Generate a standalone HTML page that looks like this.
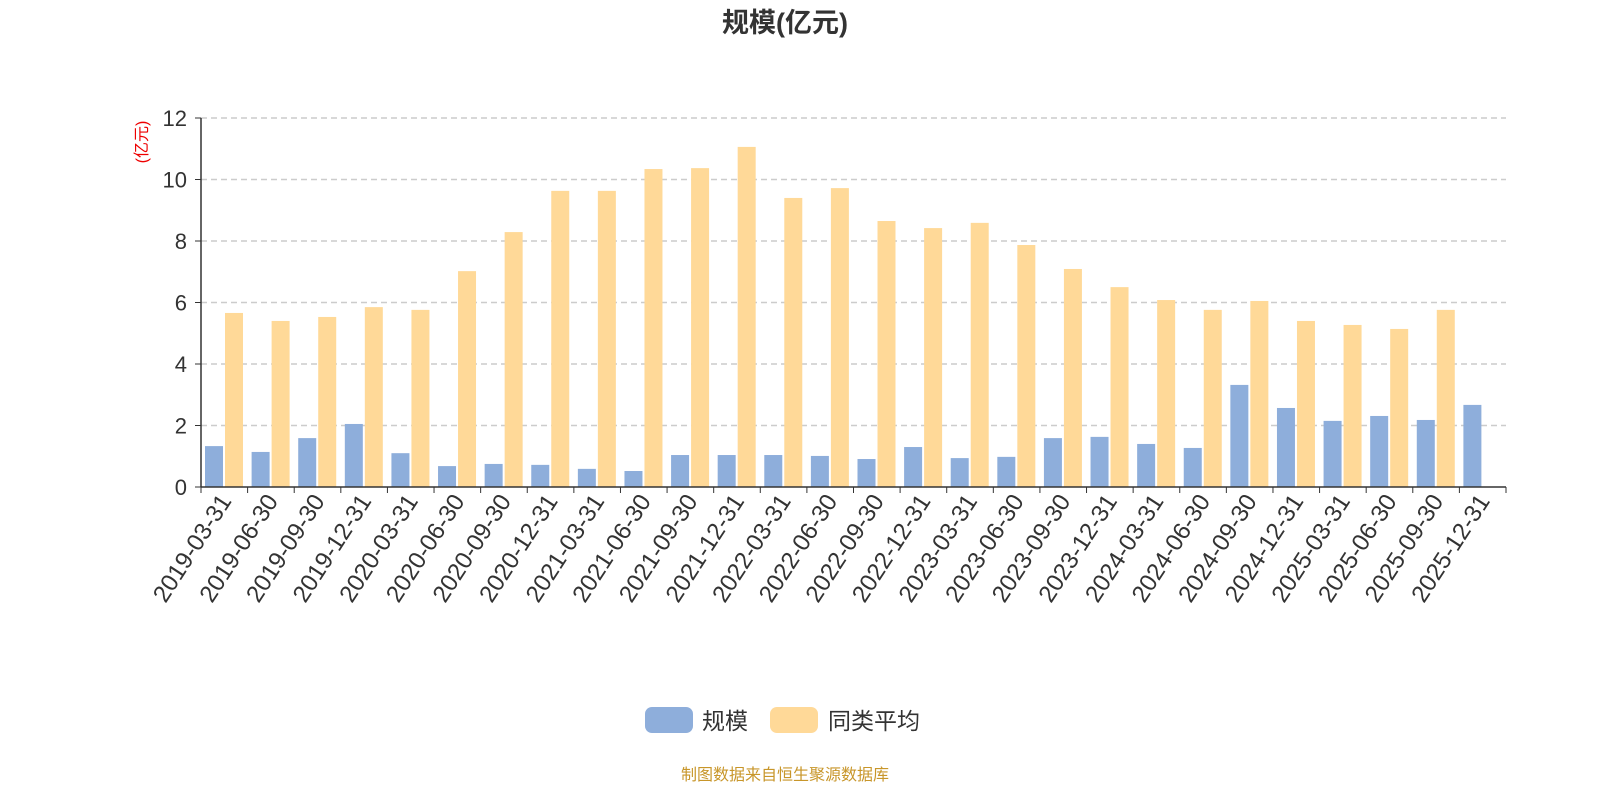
<!DOCTYPE html>
<html><head><meta charset="utf-8"><style>
body{margin:0;background:#fff;width:1600px;height:800px;overflow:hidden;font-family:"Liberation Sans","Noto Sans CJK SC",sans-serif}
</style></head><body>
<svg id="c" width="1600" height="800" xmlns="http://www.w3.org/2000/svg"></svg>
<script>
const categories=["2019-03-31","2019-06-30","2019-09-30","2019-12-31","2020-03-31","2020-06-30","2020-09-30","2020-12-31","2021-03-31","2021-06-30","2021-09-30","2021-12-31","2022-03-31","2022-06-30","2022-09-30","2022-12-31","2023-03-31","2023-06-30","2023-09-30","2023-12-31","2024-03-31","2024-06-30","2024-09-30","2024-12-31","2025-03-31","2025-06-30","2025-09-30","2025-12-31"];
const scaleValues=[1.33,1.14,1.59,2.05,1.1,0.68,0.75,0.72,0.59,0.52,1.04,1.04,1.04,1.01,0.91,1.3,0.94,0.98,1.59,1.63,1.4,1.27,3.32,2.57,2.15,2.31,2.18,2.67];
const avgValues=[5.66,5.4,5.53,5.85,5.76,7.02,8.29,9.63,9.63,10.34,10.37,11.06,9.4,9.72,8.65,8.42,8.59,7.87,7.09,6.5,6.08,5.76,6.05,5.4,5.27,5.14,5.76,null];
const yTicks=[0,2,4,6,8,10,12];
const svg=document.getElementById('c');const NS='http://www.w3.org/2000/svg';
const X0=201,X1=1506,Y0=487,Y1=118,YMAX=12;
const bw=(X1-X0)/categories.length;
const y=v=>Y0-(v/YMAX)*(Y0-Y1);
const x=i=>X0+i*bw;
function el(t,a,txt){const e=document.createElementNS(NS,t);for(const k in a)e.setAttribute(k,a[k]);if(txt!=null)e.textContent=txt;svg.appendChild(e);return e;}
let e;
e=el('text',{x:785,y:32,'text-anchor':'middle','font-size':27,'font-weight':'bold',fill:'#333'},'规模(亿元)');

e=el('text',{transform:'translate(147,142) rotate(-90)','text-anchor':'middle','font-size':16,fill:'#e00'},'(亿元)');

yTicks.forEach(t=>{
 if(t>0){e=el('line',{x1:X0,x2:X1,y1:y(t),y2:y(t),stroke:'#ccc','stroke-width':1.5,'stroke-dasharray':'6,4'});
 }
 e=el('line',{x1:X0-6,x2:X0,y1:y(t),y2:y(t),stroke:'#333'});
 e=el('text',{x:X0-14,y:y(t)+8,'text-anchor':'end','font-size':22,fill:'#333'},t);
 
});
categories.forEach((c,i)=>{
 const b=scaleValues[i];
 e=el('rect',{x:x(i)+4,y:y(b),width:18,height:Y0-y(b),fill:'#8eaedb'});
 
 const a=avgValues[i];
 if(a!=null){e=el('rect',{x:x(i)+24,y:y(a),width:18,height:Y0-y(a),fill:'#ffd998'});
 }
 const cx=x(i)+bw/2;
 e=el('text',{transform:`translate(${cx+8},${Y0+14}) rotate(-57)`,'text-anchor':'end','font-size':24,fill:'#333'},c);
 
});
for(let i=0;i<=categories.length;i++){el('line',{x1:x(i),x2:x(i),y1:Y0,y2:Y0+6,stroke:'#333'});}
e=el('line',{x1:X0,x2:X0,y1:Y1,y2:Y0,stroke:'#333','stroke-width':1.5});

e=el('line',{x1:X0,x2:X1,y1:Y0,y2:Y0,stroke:'#333','stroke-width':1.5});

e=el('rect',{x:645,y:707,width:48,height:26,rx:7,fill:'#8eaedb'});

e=el('text',{x:702,y:729,'font-size':23,fill:'#333'},'规模');

e=el('rect',{x:770,y:707,width:48,height:26,rx:7,fill:'#ffd998'});

e=el('text',{x:828,y:729,'font-size':23,fill:'#333'},'同类平均');

e=el('text',{x:785,y:780,'text-anchor':'middle','font-size':16,fill:'#c8962a'},'制图数据来自恒生聚源数据库');

</script>
</body></html>
